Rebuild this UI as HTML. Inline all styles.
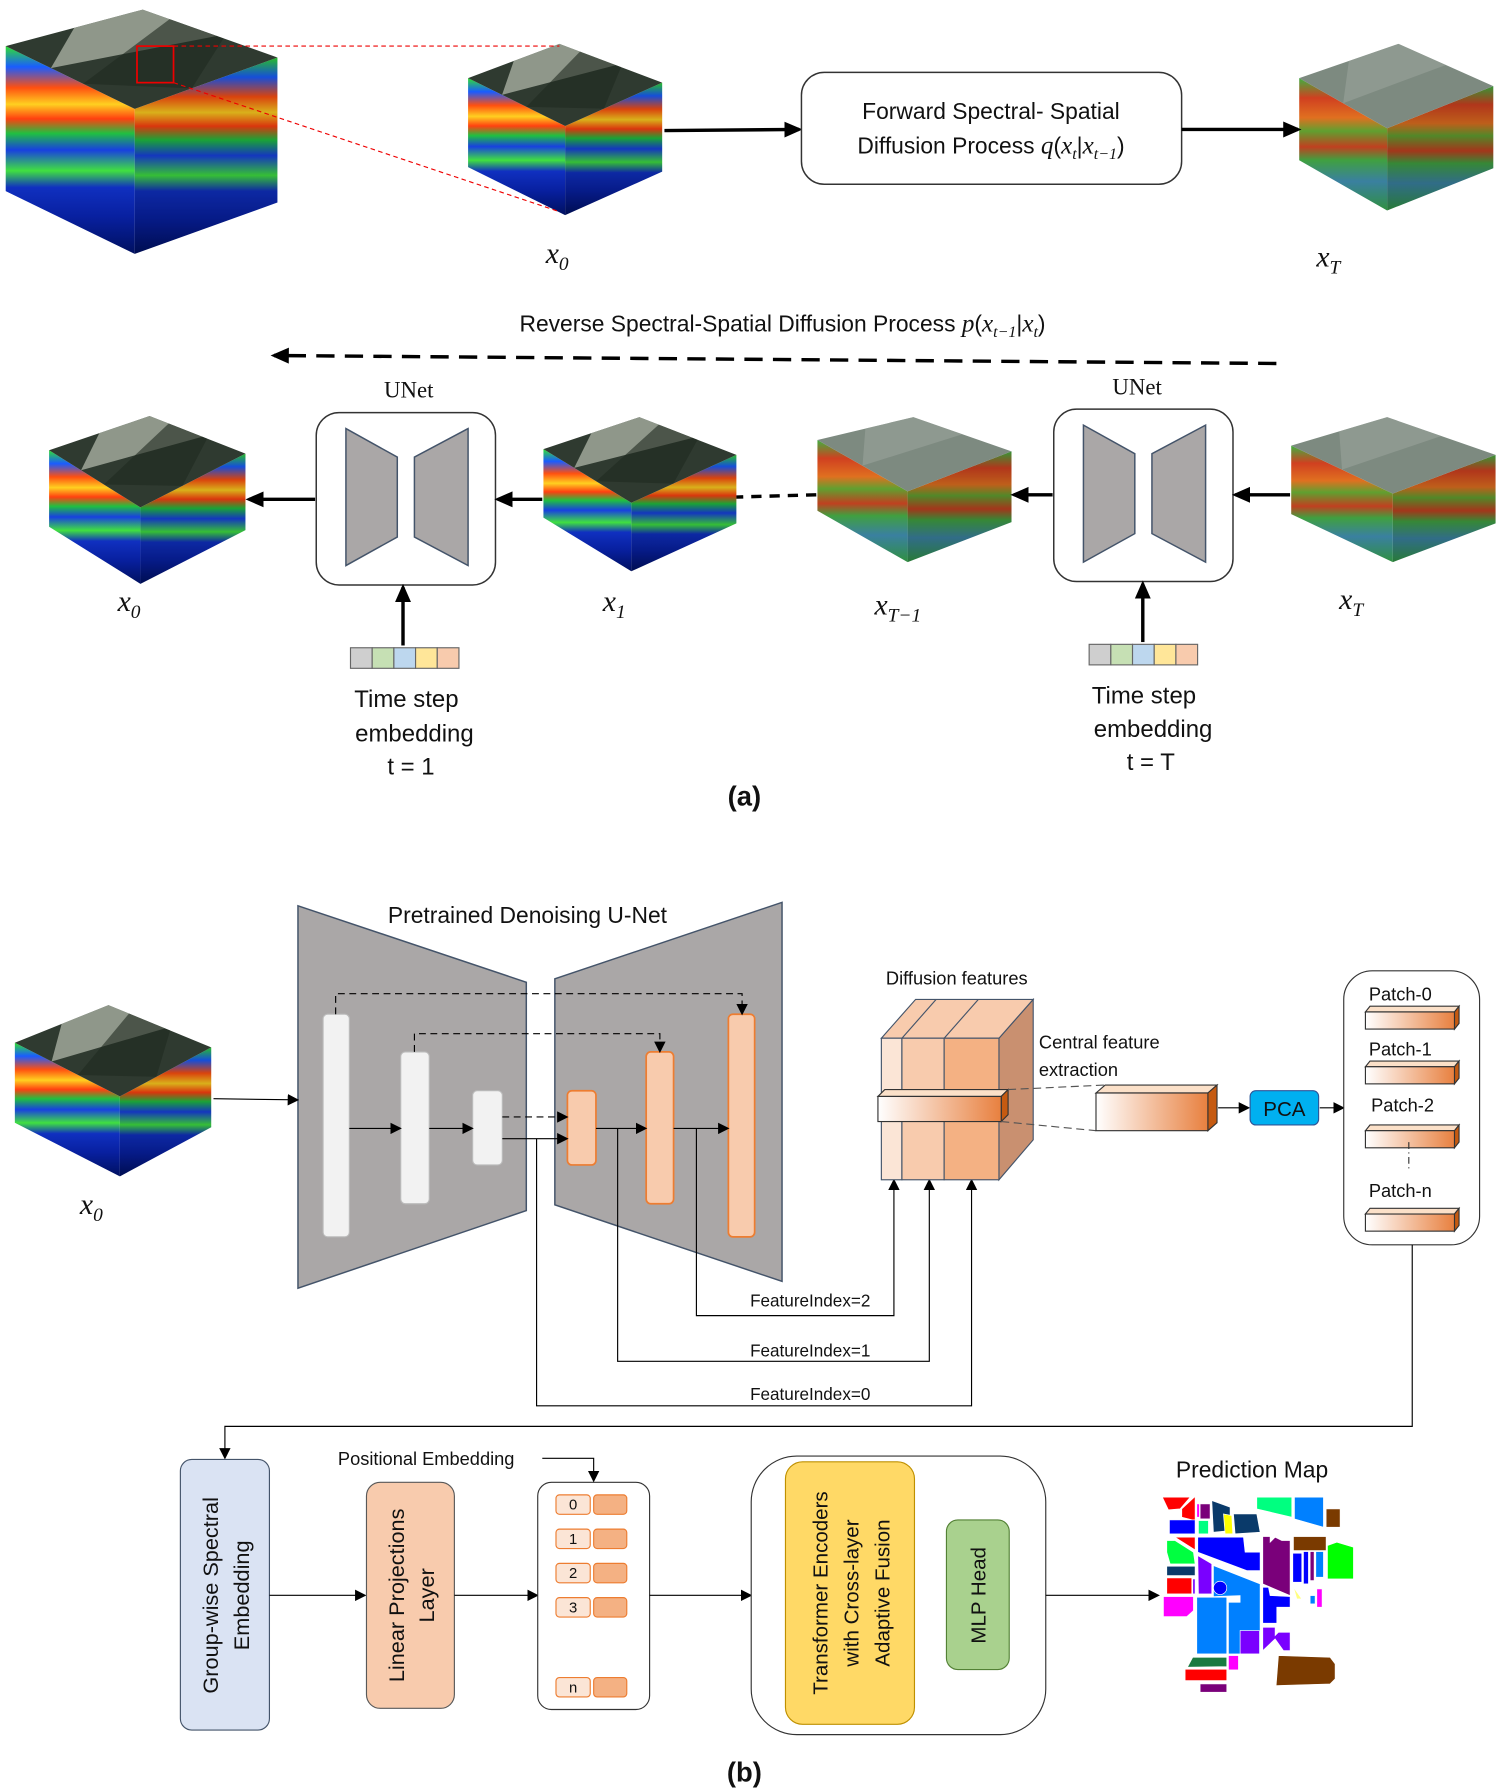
<!DOCTYPE html>
<html><head><meta charset="utf-8"><style>
html,body{margin:0;padding:0;background:#fff}
svg{display:block}
text{font-family:"Liberation Sans","DejaVu Sans",sans-serif;fill:#111}
.m{font-family:"Liberation Serif",serif;font-style:italic}
</style></head><body>
<svg id="s" width="1499" height="1791" viewBox="0 0 1313 1568" xmlns="http://www.w3.org/2000/svg">
<defs>
<marker id="ah" markerWidth="10" markerHeight="10" refX="8" refY="5" orient="auto" markerUnits="userSpaceOnUse"><path d="M0,0 L10,5 L0,10 z" fill="#000"/></marker>
<marker id="ahb" markerWidth="16" markerHeight="16" refX="13" refY="8" orient="auto" markerUnits="userSpaceOnUse"><path d="M0,1 L16,8 L0,15 z" fill="#000"/></marker>
<linearGradient id="clean" x1="0" y1="0" x2="0" y2="1">
<stop offset="0" stop-color="#30e030"/><stop offset=".1" stop-color="#1a5cff"/><stop offset=".2" stop-color="#ff5010"/><stop offset=".28" stop-color="#ffd020"/><stop offset=".35" stop-color="#ff4010"/><stop offset=".42" stop-color="#20c040"/><stop offset=".5" stop-color="#1840e0"/><stop offset=".6" stop-color="#40e040"/><stop offset=".68" stop-color="#1030c0"/><stop offset=".82" stop-color="#0820a0"/><stop offset="1" stop-color="#001060"/></linearGradient>
<linearGradient id="noisy" x1="0" y1="0" x2="0" y2="1">
<stop offset="0" stop-color="#40b040"/><stop offset=".15" stop-color="#d04020"/><stop offset=".3" stop-color="#e07020"/><stop offset=".4" stop-color="#60a030"/><stop offset=".52" stop-color="#c04020"/><stop offset=".62" stop-color="#40a040"/><stop offset=".78" stop-color="#3a80a0"/><stop offset="1" stop-color="#309040"/></linearGradient>
<linearGradient id="bar" x1="0" y1="0" x2="1" y2="0"><stop offset="0" stop-color="#fff"/><stop offset="1" stop-color="#e8803f"/></linearGradient>
</defs>
<g id="cubes"></g>

<!-- red dashed zoom -->
<rect x="120" y="40" width="32" height="32" fill="none" stroke="#e00" stroke-width="1.5"/>
<line x1="152" y1="40" x2="490" y2="40" stroke="#e00" stroke-dasharray="4,3"/>
<line x1="152" y1="72" x2="490" y2="185" stroke="#e00" stroke-dasharray="4,3"/>

<line x1="582" y1="114" x2="700" y2="113" stroke="#000" stroke-width="3" marker-end="url(#ahb)"/>
<rect x="702" y="63" width="333" height="98" rx="20" fill="#fff" stroke="#333" stroke-width="1.3"/>
<text x="868" y="104" font-size="20" text-anchor="middle">Forward Spectral- Spatial</text>
<text x="868" y="134" font-size="20" text-anchor="middle">Diffusion Process <tspan class="m" font-size="22">q</tspan>(<tspan class="m" font-size="22">x</tspan><tspan class="m" font-size="14" dy="5">t</tspan><tspan dy="-5">|</tspan><tspan class="m" font-size="22">x</tspan><tspan class="m" font-size="14" dy="5">t−1</tspan><tspan dy="-5">)</tspan></text>
<line x1="1035" y1="113" x2="1137" y2="113" stroke="#000" stroke-width="3" marker-end="url(#ahb)"/>
<text class="m" x="478" y="230" font-size="26">x<tspan font-size="17" dy="6">0</tspan></text>
<text class="m" x="1153" y="233" font-size="26">x<tspan font-size="17" dy="6">T</tspan></text>

<text x="455" y="290" font-size="20">Reverse Spectral-Spatial Diffusion Process <tspan class="m" font-size="22">p</tspan>(<tspan class="m" font-size="22">x</tspan><tspan class="m" font-size="14" dy="5">t−1</tspan><tspan dy="-5">|</tspan><tspan class="m" font-size="22">x</tspan><tspan class="m" font-size="14" dy="5">t</tspan><tspan dy="-5">)</tspan></text>
<line x1="1118" y1="318" x2="240" y2="311" stroke="#000" stroke-width="3" stroke-dasharray="16,9" marker-end="url(#ahb)"/>

<g id="unet1">
<rect x="277" y="361" width="157" height="151" rx="20" fill="#fff" stroke="#333" stroke-width="1.3"/>
<polygon points="303,375 348,400 348,470 303,495" fill="#aaa7a7" stroke="#44546a" stroke-width="1.3"/>
<polygon points="410,375 363,400 363,470 410,495" fill="#aaa7a7" stroke="#44546a" stroke-width="1.3"/>
</g>
<use href="#unet1" transform="translate(646,-3)"/>
<text x="358" y="348" font-size="20" text-anchor="middle" font-family="Liberation Serif,serif" style="font-family:'Liberation Serif',serif">UNet</text>
<text x="996" y="345" font-size="20" text-anchor="middle" style="font-family:'Liberation Serif',serif">UNet</text>

<g stroke="#000" stroke-width="3">
<line x1="276" y1="437" x2="218" y2="437" marker-end="url(#ahb)"/>
<line x1="475" y1="437" x2="436" y2="437" marker-end="url(#ahb)"/>
<line x1="715" y1="433" x2="645" y2="435" stroke-dasharray="9,7"/>
<line x1="922" y1="433" x2="888" y2="433" marker-end="url(#ahb)"/>
<line x1="1130" y1="433" x2="1082" y2="433" marker-end="url(#ahb)"/>
<line x1="353" y1="565" x2="353" y2="514" marker-end="url(#ahb)"/>
<line x1="1001" y1="562" x2="1001" y2="511" marker-end="url(#ahb)"/>
</g>
<g id="emb1" stroke="#666" stroke-width="1">
<rect x="307" y="567" width="19" height="18" fill="#cfcfcf"/><rect x="326" y="567" width="19" height="18" fill="#c6e0b4"/><rect x="345" y="567" width="19" height="18" fill="#bdd7ee"/><rect x="364" y="567" width="19" height="18" fill="#ffe699"/><rect x="383" y="567" width="19" height="18" fill="#f8cbad"/>
</g>
<use href="#emb1" transform="translate(647,-3)"/>
<g font-size="21" text-anchor="middle">
<text x="356" y="619">Time step</text><text x="363" y="649">embedding</text><text x="360" y="678">t = 1</text>
<text x="1002" y="616">Time step</text><text x="1010" y="645">embedding</text><text x="1008" y="674">t = T</text>
</g>
<text class="m" x="103" y="535" font-size="26">x<tspan font-size="17" dy="6">0</tspan></text>
<text class="m" x="528" y="535" font-size="26">x<tspan font-size="17" dy="6">1</tspan></text>
<text class="m" x="766" y="538" font-size="26">x<tspan font-size="17" dy="6">T−1</tspan></text>
<text class="m" x="1173" y="533" font-size="26">x<tspan font-size="17" dy="6">T</tspan></text>
<text x="652" y="705" font-size="24" font-weight="bold" text-anchor="middle">(a)</text>

<!-- part b -->
<polygon points="261,793 461,860 461,1060 261,1128" fill="#aaa7a7" stroke="#44546a" stroke-width="1.3"/>
<polygon points="486,857 685,790 685,1122 486,1055" fill="#aaa7a7" stroke="#44546a" stroke-width="1.3"/>
<text x="462" y="808" font-size="20" text-anchor="middle">Pretrained Denoising U-Net</text>
<g fill="#f2f2f2" stroke="#bbb">
<rect x="283" y="888" width="23" height="195" rx="4"/><rect x="351" y="921" width="25" height="133" rx="4"/><rect x="414" y="955" width="26" height="65" rx="4"/></g>
<g fill="#f8cbad" stroke="#ed7d31" stroke-width="1.5">
<rect x="497" y="955" width="25" height="65" rx="4"/><rect x="566" y="921" width="24" height="133" rx="4"/><rect x="638" y="888" width="23" height="195" rx="4"/></g>
<g stroke="#000" fill="none" stroke-width="1">
<polyline points="294,888 294,870 650,870 650,887" stroke-dasharray="6,4" marker-end="url(#ah)"/>
<polyline points="363,921 363,905 578,905 578,920" stroke-dasharray="6,4" marker-end="url(#ah)"/>
<line x1="440" y1="978" x2="496" y2="978" stroke-dasharray="6,4" marker-end="url(#ah)"/>
<line x1="306" y1="988" x2="350" y2="988" marker-end="url(#ah)"/>
<line x1="376" y1="988" x2="413" y2="988" marker-end="url(#ah)"/>
<line x1="440" y1="997" x2="496" y2="997" marker-end="url(#ah)"/>
<line x1="522" y1="988" x2="565" y2="988" marker-end="url(#ah)"/>
<line x1="590" y1="988" x2="637" y2="988" marker-end="url(#ah)"/>
<polyline points="470,997 470,1231 851,1231 851,1034" marker-end="url(#ah)"/>
<polyline points="541,988 541,1192 814,1192 814,1034" marker-end="url(#ah)"/>
<polyline points="610,988 610,1152 783,1152 783,1034" marker-end="url(#ah)"/>
<line x1="187" y1="962" x2="260" y2="963" marker-end="url(#ah)"/>
</g>
<g font-size="15"><text x="657" y="1144">FeatureIndex=2</text><text x="657" y="1188">FeatureIndex=1</text><text x="657" y="1226">FeatureIndex=0</text></g>
<text class="m" x="70" y="1063" font-size="26">x<tspan font-size="17" dy="6">0</tspan></text>

<!-- diffusion features block -->
<g stroke="#44546a" stroke-width="1">
<polygon points="875,909 905,875 905,998 875,1033" fill="#c99070"/>
<polygon points="772,909 802,875 905,875 875,909" fill="#f8cbad"/>
<line x1="790" y1="909" x2="820" y2="875"/><line x1="827" y1="909" x2="857" y2="875"/>
<rect x="772" y="909" width="18" height="124" fill="#fbe5d6"/>
<rect x="790" y="909" width="37" height="124" fill="#f8cbad"/>
<rect x="827" y="909" width="48" height="124" fill="#f4b183"/>
</g>
<g stroke="#333" stroke-width="1">
<polygon points="769,960 775,954 883,954 877,960" fill="#fbe0c8"/>
<polygon points="877,960 883,954 883,976 877,982" fill="#c55a11"/>
<rect x="769" y="960" width="108" height="22" fill="url(#bar)"/>
</g>
<text x="776" y="862" font-size="16">Diffusion features</text>
<text x="910" y="918" font-size="16">Central feature</text>
<text x="910" y="942" font-size="16">extraction</text>
<line x1="883" y1="954" x2="968" y2="950" stroke="#555" stroke-dasharray="7,4"/>
<line x1="877" y1="982" x2="960" y2="990" stroke="#555" stroke-dasharray="7,4"/>
<g stroke="#333" stroke-width="1">
<polygon points="960,957 968,950 1066,950 1058,957" fill="#fbe0c8"/>
<polygon points="1058,957 1066,950 1066,983 1058,990" fill="#c55a11"/>
<rect x="960" y="957" width="98" height="33" fill="url(#bar)"/>
</g>
<line x1="1067" y1="970" x2="1093" y2="970" stroke="#000" marker-end="url(#ah)"/>
<rect x="1095" y="955" width="60" height="30" rx="5" fill="#00b0f0" stroke="#2f5597"/>
<text x="1125" y="977" font-size="18" text-anchor="middle">PCA</text>
<line x1="1156" y1="970" x2="1176" y2="970" stroke="#000" marker-end="url(#ah)"/>
<rect x="1177" y="850" width="119" height="240" rx="25" fill="#fff" stroke="#333"/>
<g font-size="16"><text x="1199" y="876">Patch-0</text><text x="1199" y="924">Patch-1</text><text x="1201" y="973">Patch-2</text><text x="1199" y="1048">Patch-n</text></g>
<g id="pb" stroke="#333" stroke-width="1">
<polygon points="1196,886 1200,881 1278,881 1274,886" fill="#fbe0c8"/>
<polygon points="1274,886 1278,881 1278,896 1274,901" fill="#c55a11"/>
<rect x="1196" y="886" width="78" height="15" fill="url(#bar)"/>
</g>
<use href="#pb" transform="translate(0,48)"/><use href="#pb" transform="translate(0,104)"/><use href="#pb" transform="translate(0,177)"/>
<line x1="1234" y1="1000" x2="1234" y2="1026" stroke="#333" stroke-dasharray="6,3,1,3"/>
<polyline points="1237,1090 1237,1249 197,1249 197,1276" fill="none" stroke="#000" marker-end="url(#ah)"/>

<rect x="158" y="1278" width="78" height="237" rx="10" fill="#dae3f3" stroke="#44546a"/>
<text transform="translate(191,1397) rotate(-90)" font-size="19" text-anchor="middle">Group-wise  Spectral</text>
<text transform="translate(218,1397) rotate(-90)" font-size="19" text-anchor="middle">Embedding</text>
<line x1="236" y1="1397" x2="319" y2="1397" stroke="#000" marker-end="url(#ah)"/>
<rect x="321" y="1298" width="77" height="198" rx="12" fill="#f8cbad" stroke="#595959"/>
<text transform="translate(354,1397) rotate(-90)" font-size="19" text-anchor="middle">Linear Projections</text>
<text transform="translate(380,1397) rotate(-90)" font-size="19" text-anchor="middle">Layer</text>
<line x1="398" y1="1397" x2="470" y2="1397" stroke="#000" marker-end="url(#ah)"/>
<rect x="471" y="1298" width="98" height="199" rx="12" fill="#fff" stroke="#333"/>
<text x="296" y="1283" font-size="16">Positional Embedding</text>
<polyline points="475,1277 520,1277 520,1296" fill="none" stroke="#000" marker-end="url(#ah)"/>
<g id="tk"><rect x="487" y="1309" width="30" height="17" rx="3" fill="#fbe5d6" stroke="#ed7d31"/><rect x="520" y="1309" width="29" height="17" rx="3" fill="#f4b183" stroke="#ed7d31"/></g>
<use href="#tk" transform="translate(0,30)"/><use href="#tk" transform="translate(0,60)"/><use href="#tk" transform="translate(0,90)"/><use href="#tk" transform="translate(0,160)"/>
<g font-size="13" text-anchor="middle"><text x="502" y="1322">0</text><text x="502" y="1352">1</text><text x="502" y="1382">2</text><text x="502" y="1412">3</text><text x="502" y="1482">n</text></g>
<line x1="569" y1="1397" x2="657" y2="1397" stroke="#000" marker-end="url(#ah)"/>
<rect x="658" y="1275" width="258" height="244" rx="40" fill="#fff" stroke="#333"/>
<rect x="688" y="1280" width="113" height="230" rx="15" fill="#ffd966" stroke="#bf9000"/>
<g font-size="18" text-anchor="middle">
<text transform="translate(725,1395) rotate(-90)">Transformer Encoders</text>
<text transform="translate(752,1395) rotate(-90)">with Cross-layer</text>
<text transform="translate(779,1395) rotate(-90)">Adaptive Fusion</text>
</g>
<rect x="829" y="1331" width="55" height="131" rx="10" fill="#a9d18e" stroke="#538135"/>
<text transform="translate(863,1397) rotate(-90)" font-size="18" text-anchor="middle">MLP Head</text>
<line x1="916" y1="1397" x2="1014" y2="1397" stroke="#000" marker-end="url(#ah)"/>
<text x="1030" y="1294" font-size="20">Prediction Map</text>
<g transform="translate(1007.4,1287.7) scale(0.292)" stroke="#fff" stroke-width="2">
<polygon fill="#f00" points="37,80 120,80 90,115 55,118"/><polygon fill="#f00" points="95,115 135,78 135,150 95,140"/>
<rect fill="#f0f" x="140" y="100" width="8" height="40"/><rect fill="#7a007a" x="150" y="100" width="30" height="45"/>
<polygon fill="#0a3a6a" points="185,90 240,110 240,180 190,185"/><polygon fill="#ff0" points="220,130 245,135 248,190 225,190"/>
<polygon fill="#0a3a6a" points="250,130 320,130 330,185 255,190"/><polygon fill="#00ff80" points="320,80 425,80 425,140 320,115"/>
<polygon fill="#0080ff" points="433,80 520,80 520,170 433,145"/><rect fill="#7a3a00" x="528" y="115" width="42" height="55"/>
<rect fill="#0000ff" x="58" y="148" width="77" height="42"/><rect fill="#00ff80" x="145" y="150" width="30" height="40"/>
<polygon fill="#f00" points="75,200 135,200 135,238"/><polygon fill="#00ff40" points="50,210 75,210 130,245 135,280 60,280 50,245"/>
<rect fill="#0a3a6a" x="50" y="287" width="85" height="28"/><rect fill="#f00" x="50" y="322" width="75" height="48"/>
<rect fill="#7a00ff" x="128" y="325" width="7" height="45"/><polygon fill="#f0f" points="40,378 130,378 130,420 110,438 40,438"/>
<polygon fill="#0000ff" points="143,200 280,200 285,245 330,245 330,300 290,300 143,245"/>
<polygon fill="#7a00ff" points="143,255 185,280 185,370 145,370"/>
<polygon fill="#0080ff" points="190,285 330,340 330,550 235,550 235,395 270,395 270,375 190,378"/>
<rect fill="#0080ff" x="140" y="380" width="90" height="170"/><circle fill="#0000ff" cx="210" cy="352" r="20"/>
<polygon fill="#7a007a" points="338,198 360,198 360,215 375,200 395,210 420,210 420,375 338,340"/>
<rect fill="#7a3a00" x="430" y="198" width="98" height="42"/>
<rect fill="#0000ff" x="428" y="248" width="27" height="87"/><rect fill="#0000ff" x="460" y="243" width="15" height="97"/>
<rect fill="#7a007a" x="480" y="243" width="12" height="87"/><rect fill="#0080ff" x="497" y="243" width="23" height="77"/>
<polygon fill="#00ff00" points="532,225 560,215 610,230 610,325 532,325"/>
<polygon fill="#0000ff" points="338,350 355,350 360,375 420,378 420,410 380,410 380,458 338,458"/>
<polygon fill="#ffff80" points="430,350 455,385 440,385"/><rect fill="#0080ff" x="480" y="375" width="15" height="25"/>
<rect fill="#f0f" x="500" y="355" width="16" height="55"/><rect fill="#7a00ff" x="270" y="480" width="58" height="70"/>
<polygon fill="#7a00ff" points="338,470 375,470 375,495 385,485 420,485 420,540 400,540 375,505 338,540"/>
<polygon fill="#1a7a40" points="128,560 230,560 230,588 112,590"/><rect fill="#f0f" x="235" y="555" width="30" height="43"/>
<rect fill="#f00" x="105" y="596" width="125" height="34"/><rect fill="#7a007a" x="150" y="640" width="80" height="25"/>
<polygon fill="#7a3a00" points="385,555 540,560 555,580 555,625 540,640 378,645"/>
</g>
<text x="652" y="1560" font-size="24" font-weight="bold" text-anchor="middle">(b)</text>
</svg>
<script>
(function(){
var NS="http://www.w3.org/2000/svg",g=document.getElementById("cubes");
function poly(pts,fill,extra){var p=document.createElementNS(NS,"polygon");p.setAttribute("points",pts.map(function(a){return a[0]+","+a[1]}).join(" "));p.setAttribute("fill",fill);if(extra)for(var k in extra)p.setAttribute(k,extra[k]);g.appendChild(p);return p;}
function cube(T,L,R,F,h,noisy){
 var Lb=[L[0],L[1]+h],Rb=[R[0],R[1]+h],Fb=[F[0],F[1]+h];
 var grad=noisy?"url(#noisy)":"url(#clean)";
 poly([L,F,Fb,Lb],grad);
 poly([F,R,Rb,Fb],grad);
 poly([F,R,Rb,Fb],"#000",{"fill-opacity":"0.15"});
 poly([T,R,F,L],noisy?"#7d8a80":"#2f3a30");
 if(!noisy){
  var m=function(a,b,t){return [a[0]+(b[0]-a[0])*t,a[1]+(b[1]-a[1])*t];};
  poly([T,m(T,R,.55),m(L,F,.35).map(function(v,i){return v+(m(T,R,.55)[i]-T[i])*0}),m(T,L,.5)],"#b8bfb0",{"fill-opacity":"0.7"});
  poly([m(T,R,.2),m(T,R,.6),m(F,R,.4),m(L,F,.6)],"#1f2a1f",{"fill-opacity":"0.6"});
 } else {
  poly([T,m2(T,R,.5),m2(L,F,.5),m2(T,L,.5)],"#a0a8a0",{"fill-opacity":"0.5"});
 }
 function m2(a,b,t){return [a[0]+(b[0]-a[0])*t,a[1]+(b[1]-a[1])*t];}
}
cube([125,8],[5,40],[243,50],[118,95],127,false);
cube([490,38],[410,68],[580,72],[495,110],78,false);
cube([1225,38],[1138,68],[1308,75],[1215,112],72,true);
cube([131,364],[43,394],[215,397],[123,444],67,false);
cube([560,365],[476,393],[645,398],[553,440],60,false);
cube([800,365],[716,385],[886,395],[795,430],62,true);
cube([1215,365],[1131,390],[1310,398],[1220,432],60,true);
cube([95,880],[13,913],[185,917],[105,960],70,false);
})();
</script>
</body></html>
